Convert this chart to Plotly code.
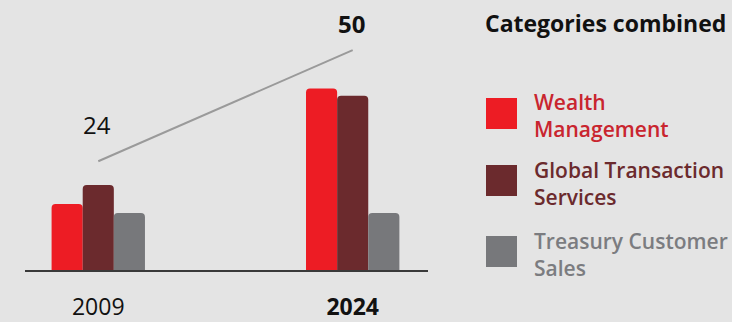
import plotly.graph_objects as go

years = ["2009", "2024"]
series_names = ["Wealth Management", "Global Transaction Services", "Treasury Customer Sales"]
# where each legend label wraps onto a second line
series_label_lines = [["Wealth", "Management"], ["Global Transaction", "Services"], ["Treasury Customer", "Sales"]]
wealth = [8.0, 22.0]
gts = [10.3, 21.1]
tcs = [6.9, 6.9]
combined = [24, 50]
legend_title = "Categories combined"

colors = ["#ed1c24", "#6b2a2d", "#77787b"]
text_colors = ["#c9252f", "#6b2a2d", "#7b7c80"]
FONT = "Open Sans"

fig = go.Figure()
for name, vals, col in zip(series_names, [wealth, gts, tcs], colors):
    fig.add_trace(go.Bar(x=years, y=vals, name=name, marker=dict(color=col, cornerradius=4, line=dict(width=0)),
                         showlegend=False, hoverinfo="skip"))

fig.add_trace(go.Scatter(x=years, y=combined, yaxis="y2", mode="lines",
                         line=dict(color="#9a9a9a", width=2), showlegend=False, hoverinfo="skip"))

# value labels for the combined line
for i, v in enumerate(combined):
    txt = f"<b>{v}</b>" if i == len(combined) - 1 else str(v)
    fig.add_annotation(x=i, y=v, xref="x", yref="y2", text=txt, showarrow=False,
                       yanchor="middle", yshift=37 if i == 0 else 27, xshift=-1,
                       font=dict(family=FONT, size=24, color="#111111"))

L, R, T, B = 25, 304, 10, 52
W, H = 732, 322
PW, PH = W - L - R, H - T - B

def px(x):
    return (x - L) / PW

def py(y):
    return (H - B - y) / PH

# custom legend
fig.add_annotation(xref="paper", yref="paper", x=px(483), y=py(23), xanchor="left", yanchor="middle",
                   text=f"<b>{legend_title}</b>", showarrow=False,
                   font=dict(family=FONT, size=23, color="#111111"))
sq_tops = [98, 165, 236]
block_centers = [115, 183, 254]
for top, lines, bc, col, tcol in zip(sq_tops, series_label_lines, block_centers, colors, text_colors):
    fig.add_shape(type="rect", xref="paper", yref="paper", x0=px(486), x1=px(517), y0=py(top), y1=py(top + 31),
                  fillcolor=col, line=dict(width=0))
    fig.add_annotation(xref="paper", yref="paper", x=px(532), y=py(bc), xanchor="left", yanchor="middle",
                       text="<br>".join(lines), showarrow=False, align="left",
                       font=dict(family=FONT, size=21, color=tcol, weight=600))

fig.update_layout(
    width=W, height=H,
    margin=dict(l=L, r=R, t=T, b=B, autoexpand=False),
    paper_bgcolor="#e4e4e4", plot_bgcolor="#e4e4e4",
    barmode="group", bargap=0.633, bargroupgap=0,
    font=dict(family=FONT, color="#111111"),
    xaxis=dict(type="category", range=[-0.288, 1.296], showline=True, linecolor="#3a3a3a", linewidth=2,
               showgrid=False, zeroline=False, ticks="outside", ticklen=15, tickcolor="rgba(0,0,0,0)",
               tickvals=years, ticktext=[years[0], f"<b>{years[1]}</b>"], automargin=False,
               tickfont=dict(family=FONT, size=23, color="#111111"), fixedrange=True),
    yaxis=dict(range=[0, 31.5], visible=False, showgrid=False, zeroline=False, fixedrange=True),
    yaxis2=dict(range=[-1.45, 59.4], overlaying="y", visible=False, showgrid=False, zeroline=False, fixedrange=True),
)

fig.write_html("out.html", config={"displayModeBar": False, "staticPlot": True},
               post_script="document.body.style.margin='0';document.body.style.background='#e4e4e4';")
